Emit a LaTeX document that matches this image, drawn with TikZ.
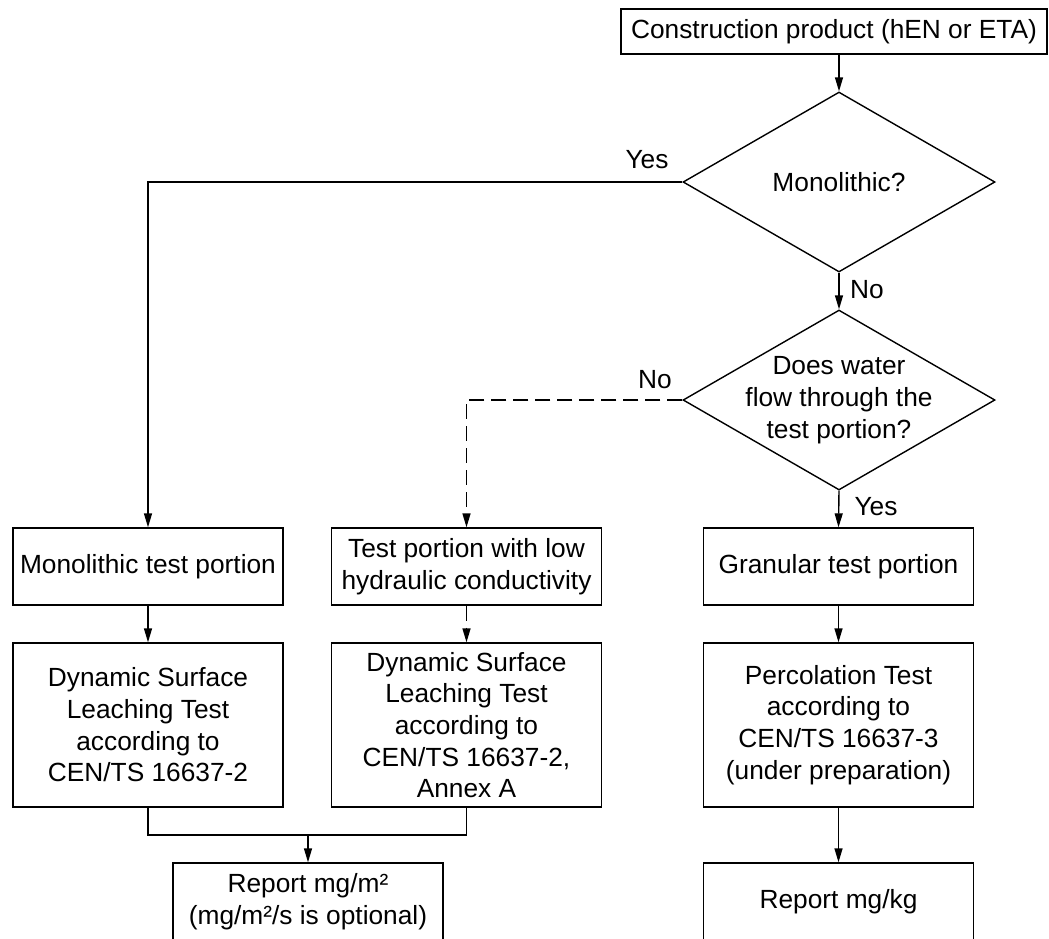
\documentclass[tikz,border=0pt]{standalone}
\usepackage{fontspec}
\setmainfont{Liberation Sans}
\usetikzlibrary{arrows.meta,shapes.geometric}

\begin{document}
\begin{tikzpicture}[x=1pt,y=-1pt,
  line width=1.4pt,
  every node/.style={font=\fontsize{26.3}{31.7}\selectfont, inner sep=0pt, align=center},
  box/.style={draw, rectangle, minimum width=270pt},
  onerow/.style={box, minimum height=77pt},
  tallbox/.style={box, minimum height=164pt},
  decision/.style={draw, diamond, minimum width=312pt, minimum height=180pt},
  arr/.style={-{Triangle[length=14pt,width=8pt]}},
  dashline/.style={dash pattern=on 15pt off 7pt}
]
\useasboundingbox (0,0) rectangle (1049,938);

% start box and decisions
\node[draw, rectangle, minimum width=426pt, minimum height=45pt] (top) at (834,31.5)
  {Construction product (hEN or ETA)};
\node[decision] (d1) at (839,182) {};
\node (d1t) at (d1.center) {Monolithic?};
\node[decision] (d2) at (839,400) {};
\node (d2t) at (d2.center) {Does water\\flow through the\\test portion?};

% test portions
\node[onerow] (mono) at (148,566.5) {Monolithic test portion};
\node[onerow] (low)  at (466.5,566.5) {Test portion with low\\hydraulic conductivity};
\node[onerow] (gran) at (838.5,566.5) {Granular test portion};

% test methods
\node[tallbox] (dslt)  at (148,725) {Dynamic Surface\\Leaching Test\\according to\\CEN/TS 16637-2};
\node[tallbox] (dslta) at (466.5,725) {Dynamic Surface\\Leaching Test\\according to\\CEN/TS 16637-2,\\Annex A};
\node[tallbox] (perc)  at (838.5,725) {Percolation Test\\according to\\CEN/TS 16637-3\\(under preparation)};

% reports
\node[onerow] (repm2) at (308,901.5) {Report mg/m²\\(mg/m²/s is optional)};
\node[onerow] (repkg) at (838.5,901.5) {Report mg/kg};

% branch labels
\node (yes1) at (647,160) {Yes};
\node (no1)  at (867,290) {No};
\node (no2)  at (655,380) {No};
\node (yes2) at (876,507) {Yes};

% connectors
\draw[arr] (top.south -| d1.north) -- (d1.north);
\draw[arr] (d1.south) -- (d2.north);
\draw[arr] (d1.west) -| (mono.north);
\draw[arr, dashline] (d2.west) -| (low.north);
\draw[arr] (d2.south) -- (gran.north);

\draw[arr] (mono.south) -- (dslt.north);
\draw[arr, dashline] (low.south) -- (dslta.north);
\draw[arr] (gran.south) -- (perc.north);

\coordinate (join) at (308,835);
\draw (dslt.south) |- (join) -| (dslta.south);
\draw[arr] (join) -- (repm2.north);
\draw[arr] (perc.south) -- (repkg.north);
\end{tikzpicture}
\end{document}
